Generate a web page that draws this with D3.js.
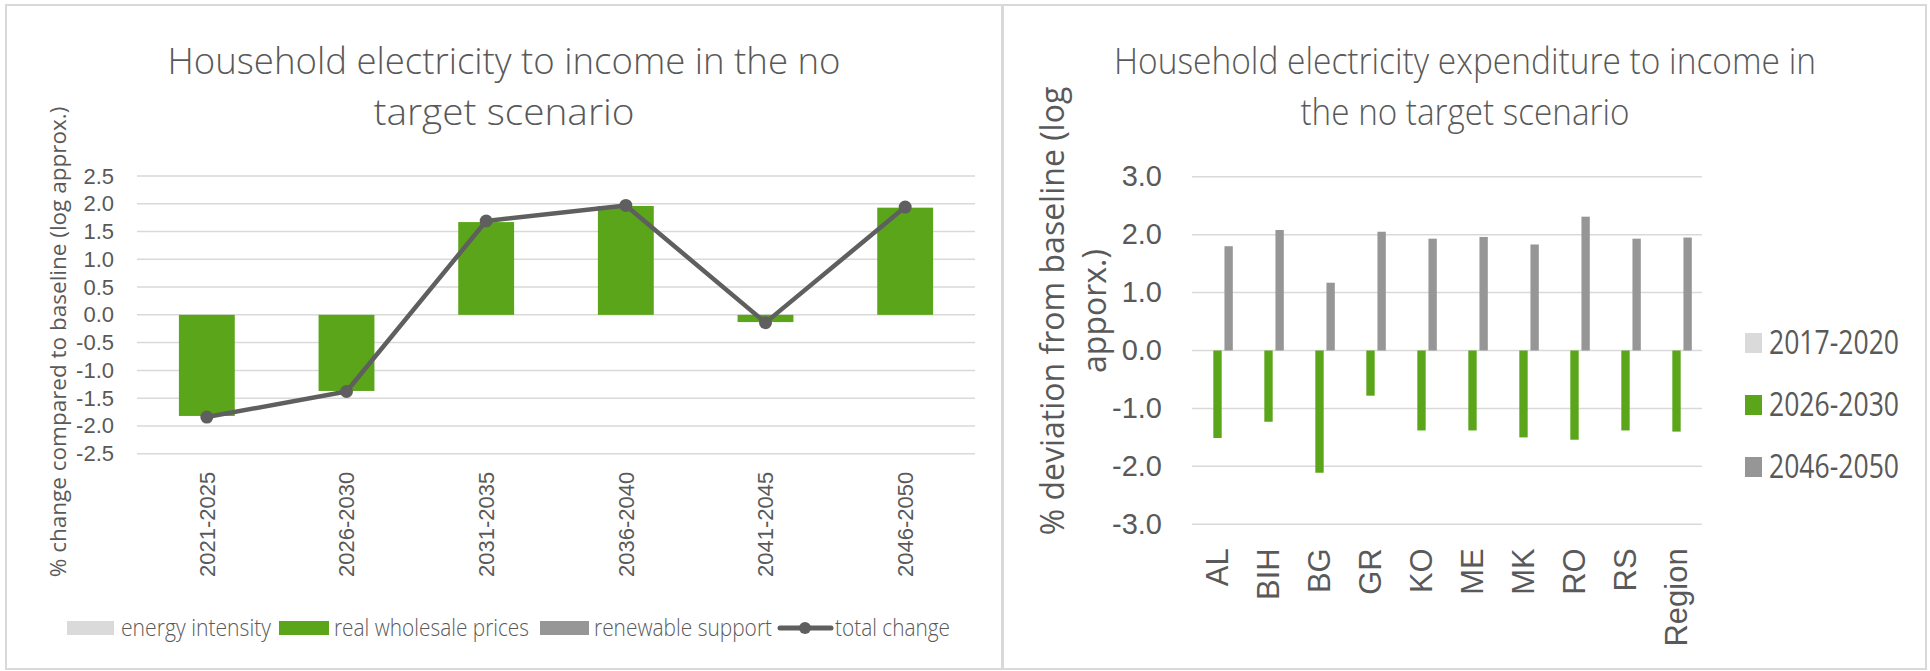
<!DOCTYPE html>
<html>
<head>
<meta charset="utf-8">
<script src="https://cdn.jsdelivr.net/npm/d3@7"></script>
<style>
  body { margin: 0; background: #fff; }
  svg { display: block; font-family: "Open Sans", sans-serif; }
  text { fill: #595959; }
</style>
</head>
<body>
<script>
// left chart data
var periods = ["2021-2025", "2026-2030", "2031-2035", "2036-2040", "2041-2045", "2046-2050"];
var energyIntensity = [0, 0, 0, 0, 0, 0];
var wholesalePrices = [-1.82, -1.37, 1.67, 1.96, -0.13, 1.93];
var renewableSupport = [0, 0, 0, 0, 0, 0];
var totalChange = [-1.84, -1.38, 1.69, 1.97, -0.14, 1.94];
var leftTicks = [-2.5, -2.0, -1.5, -1.0, -0.5, 0.0, 0.5, 1.0, 1.5, 2.0, 2.5];
var leftSeries = ["energy intensity", "real wholesale prices", "renewable support", "total change"];

// right chart data
var countries = ["AL", "BIH", "BG", "GR", "KO", "ME", "MK", "RO", "RS", "Region"];
var p2017 = [0, 0, 0, 0, 0, 0, 0, 0, 0, 0];
var p2026 = [-1.51, -1.23, -2.11, -0.78, -1.38, -1.38, -1.50, -1.54, -1.38, -1.40];
var p2046 = [1.80, 2.08, 1.17, 2.05, 1.93, 1.96, 1.83, 2.31, 1.93, 1.95];
var rightTicks = [-3, -2, -1, 0, 1, 2, 3];
var rightSeries = ["2017-2020", "2026-2030", "2046-2050"];

var lightGray = "#dadada", green = "#5aa519", midGray = "#969696", lineGray = "#5f5f5f", gridCol = "#d9d9d9";
var fmt = function(d){ return d.toFixed(1); };

var svg = d3.select("body").append("svg")
  .attr("width", 1930)
  .attr("height", 671);

// panel frames
svg.append("rect").attr("x", 6).attr("y", 5).attr("width", 996).attr("height", 664)
  .attr("fill", "none").attr("stroke", gridCol).attr("stroke-width", 2);
svg.append("rect").attr("x", 1003).attr("y", 5).attr("width", 923).attr("height", 664)
  .attr("fill", "none").attr("stroke", gridCol).attr("stroke-width", 2);

function title(lines, cx, widths){
  lines.forEach(function(t, i){
    svg.append("text")
      .attr("x", cx).attr("y", 74 + i * 51)
      .attr("text-anchor", "middle")
      .style("font-size", "36px").style("font-weight", 300)
      .attr("textLength", widths[i]).attr("lengthAdjust", "spacingAndGlyphs")
      .text(t);
  });
}

// ---------- left chart ----------
title(["Household electricity to income in the no", "target scenario"], 504, [673, 261]);

var x = d3.scaleBand().domain(periods).range([137, 975]).paddingInner(0.6).paddingOuter(0.3);
var y = d3.scaleLinear().domain([-2.5, 2.5]).range([453.7, 176]);

var gl = svg.append("g");
gl.selectAll("line.grid").data(leftTicks).enter().append("line")
  .attr("x1", 137).attr("x2", 975)
  .attr("y1", function(d){ return y(d); }).attr("y2", function(d){ return y(d); })
  .attr("stroke", gridCol).attr("stroke-width", 1.5);

var yAxisL = svg.append("g").attr("transform", "translate(137,0)")
  .call(d3.axisLeft(y).tickValues(leftTicks).tickFormat(fmt).tickSize(0).tickPadding(23));
yAxisL.select(".domain").remove();
yAxisL.selectAll("text").style("font-size", "22px").attr("fill", "#595959");

var rows = periods.map(function(p, i){
  return {period: p, energy: energyIntensity[i], wholesale: wholesalePrices[i], renewable: renewableSupport[i]};
});
var stack = d3.stack().keys(["energy", "wholesale", "renewable"]).offset(d3.stackOffsetDiverging);
var stacked = stack(rows);
var stackCols = [lightGray, green, midGray];

svg.selectAll("g.layer").data(stacked).enter().append("g")
  .attr("fill", function(d, i){ return stackCols[i]; })
  .selectAll("rect").data(function(d){ return d; }).enter().append("rect")
  .attr("x", function(d){ return x(d.data.period); })
  .attr("width", x.bandwidth())
  .attr("y", function(d){ return y(Math.max(d[0], d[1])); })
  .attr("height", function(d){ return Math.abs(y(d[0]) - y(d[1])); });

var line = d3.line()
  .x(function(d, i){ return x(periods[i]) + x.bandwidth() / 2; })
  .y(function(d){ return y(d); });

svg.append("path").datum(totalChange)
  .attr("d", line).attr("fill", "none")
  .attr("stroke", lineGray).attr("stroke-width", 4.5).attr("stroke-linejoin", "round");

svg.selectAll("circle.tot").data(totalChange).enter().append("circle")
  .attr("cx", function(d, i){ return x(periods[i]) + x.bandwidth() / 2; })
  .attr("cy", function(d){ return y(d); })
  .attr("r", 6.5).attr("fill", lineGray);

var xAxisL = svg.append("g").attr("transform", "translate(0,453.7)")
  .call(d3.axisBottom(x).tickSize(0));
xAxisL.select(".domain").remove();
xAxisL.selectAll("text")
  .attr("transform", "rotate(-90)")
  .attr("text-anchor", "end")
  .attr("x", -18).attr("y", 0).attr("dy", "0.35em")
  .style("font-size", "22px").attr("fill", "#595959");

svg.append("text")
  .attr("transform", "translate(58,342) rotate(-90)")
  .attr("text-anchor", "middle").attr("dy", "0.35em")
  .style("font-size", "22.5px")
  .text("% change compared to baseline (log approx.)");

// left legend
var legL = [
  {x: 67, w: 47, text: 121, tw: 150, col: lightGray},
  {x: 279, w: 50, text: 334, tw: 195, col: green},
  {x: 540, w: 49, text: 594, tw: 178, col: midGray}
];
leftSeries.slice(0, 3).forEach(function(s, i){
  var l = legL[i];
  svg.append("rect").attr("x", l.x).attr("y", 621).attr("width", l.w).attr("height", 14).attr("fill", l.col);
  svg.append("text").attr("x", l.text).attr("y", 636).style("font-size", "23px").style("font-weight", 300)
    .attr("textLength", l.tw).attr("lengthAdjust", "spacingAndGlyphs").text(s);
});
svg.append("line").attr("x1", 780).attr("x2", 831).attr("y1", 628).attr("y2", 628)
  .attr("stroke", lineGray).attr("stroke-width", 5).attr("stroke-linecap", "round");
svg.append("circle").attr("cx", 805).attr("cy", 628).attr("r", 6).attr("fill", lineGray);
svg.append("text").attr("x", 835).attr("y", 636).style("font-size", "23px").style("font-weight", 300)
  .attr("textLength", 115).attr("lengthAdjust", "spacingAndGlyphs").text(leftSeries[3]);

// ---------- right chart ----------
title(["Household electricity expenditure to income in", "the no target scenario"], 1465, [702, 329]);

var x0 = d3.scaleBand().domain(countries).range([1192, 1702]).paddingInner(0.4).paddingOuter(0.2);
var x1 = d3.scaleBand().domain(rightSeries).range([0, x0.bandwidth()]).paddingInner(0.25);
var y2 = d3.scaleLinear().domain([-3, 3]).range([524.3, 176.7]);

svg.append("g").selectAll("line").data(rightTicks).enter().append("line")
  .attr("x1", 1192).attr("x2", 1702)
  .attr("y1", function(d){ return y2(d); }).attr("y2", function(d){ return y2(d); })
  .attr("stroke", gridCol).attr("stroke-width", 1.5);

var yAxisR = svg.append("g").attr("transform", "translate(1192,0)")
  .call(d3.axisLeft(y2).tickValues(rightTicks).tickFormat(fmt).tickSize(0).tickPadding(30));
yAxisR.select(".domain").remove();
yAxisR.selectAll("text").style("font-size", "29px").attr("fill", "#595959");

var rSeriesVals = [p2017, p2026, p2046];
var rCols = [lightGray, green, midGray];
rightSeries.forEach(function(s, k){
  svg.append("g").attr("fill", rCols[k])
    .selectAll("rect").data(rSeriesVals[k]).enter().append("rect")
    .attr("x", function(d, i){ return x0(countries[i]) + x1(s); })
    .attr("width", x1.bandwidth())
    .attr("y", function(d){ return y2(Math.max(0, d)); })
    .attr("height", function(d){ return Math.abs(y2(d) - y2(0)); });
});

var xAxisR = svg.append("g").attr("transform", "translate(0,524.3)")
  .call(d3.axisBottom(x0).tickSize(0));
xAxisR.select(".domain").remove();
xAxisR.selectAll("text")
  .attr("transform", "rotate(-90)")
  .attr("text-anchor", "end")
  .attr("x", -24).attr("y", 0).attr("dy", "0.35em")
  .style("font-size", "31px").attr("fill", "#595959");

var yTitleR = svg.append("text")
  .attr("transform", "translate(1053,311) rotate(-90)")
  .attr("text-anchor", "middle")
  .style("font-size", "32px");
yTitleR.append("tspan").attr("x", 0).attr("dy", "0.35em").text("% deviation from baseline (log");
yTitleR.append("tspan").attr("x", 0).attr("dy", "42").text("apporx.)");

// right legend
rightSeries.forEach(function(s, k){
  var cy = 343 + k * 62;
  svg.append("rect").attr("x", 1745).attr("y", cy - 10).attr("width", 17).attr("height", 20).attr("fill", rCols[k]);
  svg.append("text").attr("x", 1769).attr("y", cy + 11).style("font-size", "32px")
    .attr("textLength", 130).attr("lengthAdjust", "spacingAndGlyphs").text(s);
});
</script>
</body>
</html>
